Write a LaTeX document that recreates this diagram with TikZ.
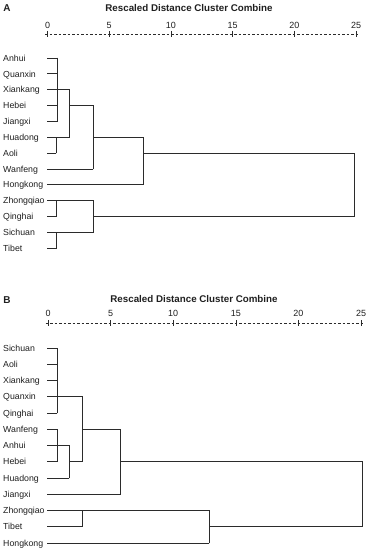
\documentclass[tikz,border=0pt]{standalone}
\usepackage{fontspec}
\setmainfont{Liberation Sans}
\usepackage{xcolor}
\usepackage{tikz}
\usetikzlibrary{positioning}
\definecolor{treec}{HTML}{2B2B2B}
\definecolor{txtc}{HTML}{1F1F1F}
\tikzset{
  br/.style={treec,line width=0.8bp,line cap=rect},
  ax/.style={treec,line width=0.6bp,dash pattern=on 2.6bp off 1.9bp},
  tk/.style={treec,line width=0.6bp},
  lf/.style={anchor=west,inner sep=0pt,text height=6.4bp,text depth=0bp,txtc,font=\fontsize{8.8}{10}\selectfont},
  num/.style={inner sep=0pt,txtc,font=\fontsize{9}{10}\selectfont},
  ttl/.style={inner sep=0pt,txtc,font=\fontsize{9.8}{11}\selectfont\bfseries},
  pnl/.style={inner sep=0pt,txtc,font=\fontsize{10}{11}\selectfont\bfseries}
}
\begin{document}
\begin{tikzpicture}[x=1bp,y=-1bp]
\useasboundingbox (0,0) rectangle (375,550);
% ---- panel A
\node[pnl] (pA) at (7,8) {A};
\node[ttl] (tA) at (189,8) {Rescaled Distance Cluster Combine};
\draw[ax] (45,34) -- (358,34);
\foreach \k in {0,...,5}{
  \pgfmathsetmacro\xx{47.5+61.7*\k}
  \pgfmathtruncatemacro\vv{5*\k}
  \draw[tk] (\xx,31) -- (\xx,37);
  \node[num] (nA\k) at (\xx,25) {\vv};
}
\foreach \nm [count=\i] in {Anhui,Quanxin,Xiankang,Hebei,Jiangxi,Huadong,Aoli,Wanfeng,Hongkong,Zhongqiao,Qinghai,Sichuan,Tibet}{
  \node[lf] (la\i) at (3,{58+15.85*(\i-1)}) {\nm};
  \coordinate (a\i) at (47,{58+15.85*(\i-1)});
}
\coordinate (mA1) at (57,0);
\coordinate (mA2) at (56,0);
\coordinate (mA3) at (69,0);
\coordinate (mA4) at (93,0);
\coordinate (mA5) at (143,0);
\coordinate (mA6) at (354,0);
% leaf stubs
\foreach \i/\m in {1/mA1,2/mA1,3/mA1,4/mA1,5/mA1,6/mA2,7/mA2,8/mA4,9/mA5,10/mA4,11/mA2,12/mA4,13/mA2}
  \draw[br] (a\i) -- (a\i -| \m);
% joins
\foreach \m/\p/\q in {mA1/a1/a5,mA2/a6/a7,mA3/a3/a6,mA4/a4/a8,mA5/a6/a9,mA6/a7/a11,mA2/a10/a11,mA2/a12/a13,mA4/a10/a12}
  \draw[br] (\p -| \m) -- (\q -| \m);
\foreach \r/\m/\n in {a3/mA1/mA3,a6/mA2/mA3,a4/mA3/mA4,a6/mA4/mA5,a7/mA5/mA6,a11/mA4/mA6}
  \draw[br] (\r -| \m) -- (\r -| \n);
% ---- panel B
\node[pnl] (pB) at (7,300) {B};
\node[ttl] (tB) at (194,299) {Rescaled Distance Cluster Combine};
\draw[ax] (45.5,323) -- (363,323);
\foreach \k in {0,...,5}{
  \pgfmathsetmacro\xx{48+62.6*\k}
  \pgfmathtruncatemacro\vv{5*\k}
  \draw[tk] (\xx,320) -- (\xx,326);
  \node[num] (nB\k) at (\xx,313) {\vv};
}
\foreach \nm [count=\i] in {Sichuan,Aoli,Xiankang,Quanxin,Qinghai,Wanfeng,Anhui,Hebei,Huadong,Jiangxi,Zhongqiao,Tibet,Hongkong}{
  \node[lf] (lb\i) at (3,{348+16.25*(\i-1)}) {\nm};
  \coordinate (b\i) at (47,{348+16.25*(\i-1)});
}
\coordinate (mB1) at (57,0);
\coordinate (mB2) at (69,0);
\coordinate (mB3) at (82,0);
\coordinate (mB4) at (120,0);
\coordinate (mB5) at (209,0);
\coordinate (mB6) at (362,0);
% leaf stubs
\foreach \i/\m in {1/mB1,2/mB1,3/mB1,4/mB3,5/mB1,6/mB1,7/mB2,8/mB1,9/mB2,10/mB4,11/mB5,12/mB3,13/mB5}
  \draw[br] (b\i) -- (b\i -| \m);
% joins
\foreach \m/\p/\q in {mB1/b1/b5,mB1/b6/b8,mB2/b7/b9,mB3/b4/b8,mB4/b6/b10,mB3/b11/b12,mB5/b11/b13,mB6/b8/b12}
  \draw[br] (\p -| \m) -- (\q -| \m);
\foreach \r/\m/\n in {b8/mB2/mB3,b6/mB3/mB4,b8/mB4/mB6,b12/mB5/mB6}
  \draw[br] (\r -| \m) -- (\r -| \n);
\end{tikzpicture}
\end{document}
